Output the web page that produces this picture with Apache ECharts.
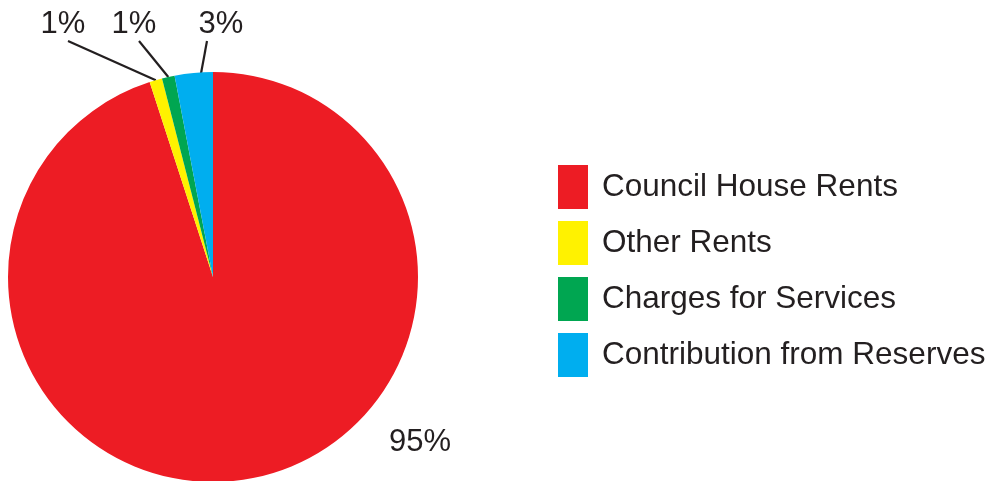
<!DOCTYPE html>
<html>
<head>
<meta charset="utf-8">
<script src="https://cdn.jsdelivr.net/npm/echarts@6/dist/echarts.min.js"></script>
<style>
  html, body { margin: 0; padding: 0; background: #fff; }
  #chart { width: 990px; height: 481px; }
</style>
</head>
<body>
<div id="chart"></div>
<script>
// income sources (percent)
var categories = ['Council House Rents', 'Other Rents', 'Charges for Services', 'Contribution from Reserves'];
var values = [95, 1, 1, 3];
var colors = ['#ED1C24', '#FFF200', '#00A651', '#00AEEF'];
// where each percentage label sits, and how its leader line is drawn
var labelSpots = [[420, 442], [63, 24], [134, 24], [221, 24]];
var lineTipDx = [0, 5, 5, -14];
var lineDepth = [1, 1, 1, 0.87];

var center = [213, 277];

var chart = echarts.init(document.getElementById('chart'));

var seriesData = categories.map(function (name, i) {
    var item = { name: name, value: values[i], itemStyle: { color: colors[i] } };
    if (i === 0) {
        item.labelLine = { show: false };
    }
    return item;
});

chart.setOption({
    animation: false,
    textStyle: { fontFamily: 'Liberation Sans, Arial, sans-serif' },
    legend: {
        orient: 'vertical',
        left: 553,
        top: 160,
        itemWidth: 30,
        itemHeight: 44,
        itemGap: 12,
        icon: 'rect',
        selectedMode: false,
        textStyle: {
            fontSize: 31.5,
            color: '#231F20',
            padding: [0, 0, 0, 9]
        },
        data: categories
    },
    series: [{
        type: 'pie',
        center: center,
        radius: 205,
        startAngle: 90,
        clockwise: true,
        avoidLabelOverlap: false,
        emphasis: { disabled: true },
        label: {
            show: true,
            position: 'outside',
            formatter: '{c}%',
            fontSize: 31,
            color: '#231F20'
        },
        labelLine: {
            show: true,
            length: 0,
            length2: 0,
            lineStyle: { color: '#231F20', width: 2.2 }
        },
        labelLayout: function (params) {
            var i = params.dataIndex;
            var p = labelSpots[i];
            var res = { x: p[0], y: p[1], align: 'center', verticalAlign: 'middle', moveOverlap: false };
            var pts = params.labelLinePoints;
            if (pts && i > 0) {
                var k = lineDepth[i];
                var start = [center[0] + (pts[0][0] - center[0]) * k, center[1] + (pts[0][1] - center[1]) * k];
                var tip = [p[0] + lineTipDx[i], p[1] + 17];
                res.labelLinePoints = [start, tip, tip];
            }
            return res;
        },
        data: seriesData
    }]
});
</script>
</body>
</html>
